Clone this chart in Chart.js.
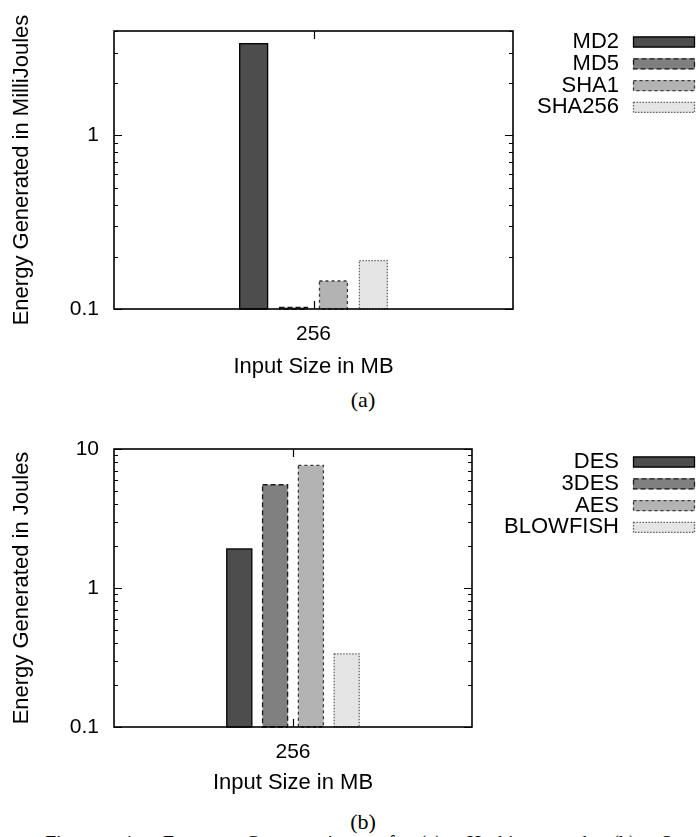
<!DOCTYPE html>
<html>
<head>
<meta charset="utf-8">
<script src="https://cdn.jsdelivr.net/npm/chart.js@4.4.1/dist/chart.umd.min.js"></script>
<style>
  html, body { margin:0; padding:0; background:#fff; }
  body { width:696px; height:837px; position:relative; overflow:hidden; }
  canvas { position:absolute; left:0; }
  #chartA { top:0; }
  #chartB { top:420px; }
  .cap { position:absolute; font:22px 'Liberation Serif', serif; color:#000; transform:translate(-50%,-50%); white-space:nowrap; }
  #figcap { position:absolute; left:45px; top:832px; font:20px 'Liberation Serif', serif; word-spacing:20px; white-space:nowrap; color:#000; }
</style>
</head>
<body>
<canvas id="chartA" width="696" height="384"></canvas>
<canvas id="chartB" width="696" height="384"></canvas>
<div class="cap" style="left:363px; top:400px">(a)</div>
<div class="cap" style="left:363px; top:822px">(b)</div>
<div id="figcap">Figure 4: Energy Consumption of (a) Hashing and (b) Symmetric Encryption</div>
<script>
// values
const sizes = ['256'];
const hashAlgos = ['MD2', 'MD5', 'SHA1', 'SHA256'];
const hashEnergy = [3.38, 0.102, 0.145, 0.19];      // milliJoules
const hashTicks = [0.1, 1];
const hashMax = 4;
const cipherAlgos = ['DES', '3DES', 'AES', 'BLOWFISH'];
const cipherEnergy = [1.91, 5.53, 7.62, 0.336];     // Joules
const cipherTicks = [0.1, 1, 10];
const cipherMax = 10;

// gnuplot style fill/outline per series slot
const fills = ['#4d4d4d', '#808080', '#b3b3b3', '#e5e5e5'];
const edges = ['#000', '#1a1a1a', '#3a3a3a', '#666'];
const dashes = [[], [5, 3], [3, 3], [1.5, 1.5]];

Chart.defaults.font.family = "'Liberation Sans', Arial, sans-serif";
Chart.defaults.color = '#000';

// frame, inward ticks, dashed bar outlines, y title and legend
const gnuplotLook = {
  id: 'gnuplotLook',
  afterDatasetsDraw(chart, args, opts) {
    const ctx = chart.ctx;
    const {left, right, top, bottom} = chart.chartArea;
    const x = chart.scales.x, y = chart.scales.y;
    ctx.save();

    chart.data.datasets.forEach((ds, i) => {
      chart.getDatasetMeta(i).data.forEach(bar => {
        const p = bar.getProps(['x', 'y', 'base', 'width'], true);
        ctx.strokeStyle = ds.edgeColor;
        ctx.lineWidth = 1.3;
        ctx.setLineDash(ds.dash);
        ctx.strokeRect(p.x - p.width / 2, p.y, p.width, p.base - p.y);
      });
    });
    ctx.setLineDash([]);

    ctx.strokeStyle = '#000';
    ctx.lineWidth = 1.6;
    ctx.strokeRect(left, top, right - left, bottom - top);

    ctx.lineWidth = 1.2;
    ctx.beginPath();
    for (let e = Math.floor(Math.log10(y.min)); e <= Math.ceil(Math.log10(y.max)); e++) {
      for (let m = 1; m < 10; m++) {
        const v = m * Math.pow(10, e);
        if (v < y.min * 0.999 || v > y.max * 1.001) continue;
        const py = Math.round(y.getPixelForValue(v)) + 0.5;
        const len = m === 1 ? 8 : 4;
        ctx.moveTo(left, py); ctx.lineTo(left + len, py);
        ctx.moveTo(right, py); ctx.lineTo(right - len, py);
      }
    }
    x.ticks.forEach((t, i) => {
      const px = Math.round(x.getPixelForTick(i)) + 0.5;
      ctx.moveTo(px, bottom); ctx.lineTo(px, bottom - 8);
      ctx.moveTo(px, top); ctx.lineTo(px, top + 8);
    });
    ctx.stroke();

    ctx.font = "22px 'Liberation Sans', Arial, sans-serif";
    ctx.fillStyle = '#000';
    ctx.save();
    ctx.translate(21.5, (top + bottom) / 2);
    ctx.rotate(-Math.PI / 2);
    ctx.textAlign = 'center';
    ctx.textBaseline = 'middle';
    ctx.fillText(opts.title, 0, 0);
    ctx.restore();

    ctx.textAlign = 'right';
    ctx.textBaseline = 'middle';
    chart.data.datasets.forEach((ds, i) => {
      const cy = opts.legendY + i * 21.8;
      ctx.fillStyle = '#000';
      ctx.fillText(ds.label, 619, cy);
      ctx.fillStyle = ds.backgroundColor;
      ctx.fillRect(633, cy - 5.5, 62, 11);
      ctx.strokeStyle = ds.edgeColor;
      ctx.setLineDash(ds.dash);
      ctx.lineWidth = 1.3;
      ctx.strokeRect(633.5, cy - 5, 61, 10);
    });
    ctx.restore();
  }
};

function makeChart(id, names, values, ticks, yMax, o) {
  return new Chart(document.getElementById(id), {
    type: 'bar',
    data: {
      labels: sizes,
      datasets: names.map((name, i) => ({
        label: name,
        data: [values[i]],
        backgroundColor: fills[i],
        borderWidth: 0,
        edgeColor: edges[i],
        dash: dashes[i],
        categoryPercentage: 0.4,
        barPercentage: 0.7
      }))
    },
    options: {
      responsive: false,
      animation: false,
      devicePixelRatio: 1,
      layout: { padding: { top: o.top, right: o.right, left: 0, bottom: 0 } },
      plugins: {
        legend: { display: false },
        tooltip: { enabled: false },
        gnuplotLook: { title: o.title, legendY: 42 }
      },
      scales: {
        x: {
          grid: { display: false },
          border: { display: false },
          ticks: { font: { size: 21 }, padding: 5 },
          title: { display: true, text: 'Input Size in MB', font: { size: 22 }, padding: { top: 0, bottom: o.titlePad } },
          afterFit: s => { s.height = o.xHeight; }
        },
        y: {
          type: 'logarithmic',
          min: 0.1,
          max: yMax,
          grid: { display: false },
          border: { display: false },
          ticks: { font: { size: 21 }, padding: 7, callback: v => String(v) },
          afterBuildTicks: s => { s.ticks = ticks.map(v => ({ value: v, major: true })); },
          afterFit: s => { s.width = 114; }
        }
      }
    },
    plugins: [gnuplotLook]
  });
}

makeChart('chartA', hashAlgos, hashEnergy, hashTicks, hashMax,
  { top: 31, right: 183, xHeight: 75, titlePad: 4, title: 'Energy Generated in MilliJoules' });
makeChart('chartB', cipherAlgos, cipherEnergy, cipherTicks, cipherMax,
  { top: 29, right: 224, xHeight: 77, titlePad: 8, title: 'Energy Generated in Joules' });
</script>
</body>
</html>
